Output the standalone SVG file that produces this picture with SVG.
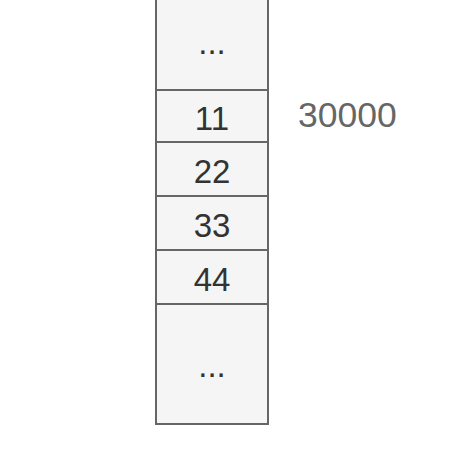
<svg xmlns="http://www.w3.org/2000/svg" width="462" height="464" viewBox="0 0 462 464">
<style>
.c{fill:#f5f5f5;stroke:#666666;stroke-width:2}
.t{font-family:"Liberation Sans",Arial,sans-serif;font-size:33px;fill:#333333;text-anchor:middle}
.a{font-family:"Liberation Sans",Arial,sans-serif;font-size:35.5px;fill:#666666;text-anchor:start}
</style>
<g id="cell-top"><rect class="c" x="156" y="-30" width="112" height="120"/><text class="t" x="212" y="54">...</text></g>
<g id="cell-11"><rect class="c" x="156" y="90" width="112" height="52"/><text class="t" x="212" y="129.5">11</text></g>
<g id="cell-22"><rect class="c" x="156" y="142" width="112" height="54"/><text class="t" x="212" y="183.3">22</text></g>
<g id="cell-33"><rect class="c" x="156" y="196" width="112" height="54"/><text class="t" x="212" y="237.3">33</text></g>
<g id="cell-44"><rect class="c" x="156" y="250" width="112" height="54"/><text class="t" x="212" y="290.7">44</text></g>
<g id="cell-bottom"><rect class="c" x="156" y="304" width="112" height="120"/><text class="t" x="212" y="377">...</text></g>
<g id="label-30000"><text class="a" x="298" y="127.3">30000</text></g>
<g id="connectors"/>
</svg>
